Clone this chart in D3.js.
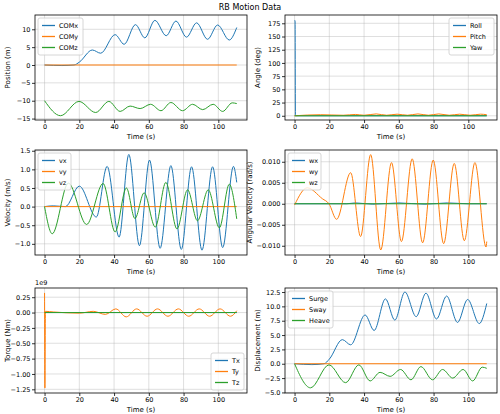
<!DOCTYPE html>
<html><head><meta charset="utf-8">
<script src="https://cdn.jsdelivr.net/npm/d3@7"></script>
<style>body{margin:0;background:#fff}text{font-family:"DejaVu Sans",sans-serif}</style>
</head><body>
<script>
// data, [time, value] keypoints
var comx = [[0,0],[10,-0.15],[17,0],[20,0.8],[27.5,4.2],[32.3,3.3],[40.6,8.5],[45.8,5.8],[52.3,11.3],[57.7,7.6],[63.5,12.5],[70,8.2],[75.6,12.3],[81.7,7.8],[87.5,11.8],[93.8,7.2],[99.6,11.2],[106.3,7.0],[110.6,10.5]];
var comy = [[0,0],[110.6,0]];
var comz = [[0,-10],[9.2,-14.2],[19.8,-10.2],[29.4,-13.3],[37,-10.2],[43.5,-13],[49.2,-11.5],[55,-12.2],[61,-11],[67,-12.8],[72.7,-10.5],[79.4,-12.8],[85.2,-11],[91,-12.5],[97,-11],[102.5,-13],[108,-10.6],[110.6,-10.8]];
var roll = [[0,180],[0.3,180],[0.5,0],[110.6,0]];
var pitch = [[0,0],[15,2],[28,1],[35,2.5],[40,1],[47,3.5],[53,1],[59,3],[65,1],[71,3.5],[77,1],[83,3.5],[89,1],[95,3],[101,1],[107,3],[110.6,2]];
var yaw = [[0,0],[110.6,0]];
var vx = [[0,0],[5,0.02],[12,0],[20,0.55],[29.8,-0.28],[36,1.08],[42.9,-0.82],[48.5,1.4],[54.6,-1.05],[60.4,1.25],[66.5,-1.12],[72.7,1.1],[78.7,-1.15],[84.6,1.07],[90.6,-1.17],[96.7,1.07],[102.5,-1.1],[108.7,1.08],[110.6,0.65]];
var vy = [[0,0],[110.6,0]];
var vz = [[0,0],[4.4,-0.73],[13.7,0.63],[24.2,-0.48],[33.7,0.62],[40.6,-0.68],[47.1,0.5],[52,-0.32],[57.3,0.37],[63.7,-0.55],[69.8,0.65],[76.2,-0.6],[82.3,0.45],[88,-0.38],[94.2,0.45],[100.6,-0.57],[106.3,0.6],[110.6,-0.33]];
var wx = [[0,0],[30,0],[35,0.0002],[45,-0.0001],[60,0.0002],[75,-0.0001],[88,0.0002],[100,0],[110.6,0]];
var wy = [[0,-0.0003],[7.3,0.0038],[16,0.0012],[19.8,0],[24.2,-0.0037],[32.3,0.0074],[38,-0.0078],[43.8,0.0117],[49.6,-0.011],[55.8,0.0098],[61.5,-0.009],[67.7,0.0107],[73.7,-0.0093],[79.8,0.0104],[85.8,-0.0095],[91.9,0.0096],[97.7,-0.0088],[103.8,0.0098],[110.2,-0.0103],[110.6,-0.009]];
var wz = [[0,0],[110.6,0]];
var tx = [[0,0],[110.6,0]];
var ty = [[0,0.32],[0.2,-1.23],[0.5,0.02],[5,0.01],[20,-0.01],[28,0.02],[35,-0.03],[41,0.06],[47,-0.07],[53,0.06],[59,-0.06],[65,0.06],[71,-0.06],[77,0.06],[83,-0.06],[89,0.06],[95,-0.06],[101,0.06],[107,-0.06],[110.6,0.03]];
var tz = [[0,0],[110.6,0]];
var surge = comx;
var sway = [[0,0],[110.6,0]];
var heave = [[0,0],[9.2,-4.2],[19.8,-0.2],[29.4,-3.3],[37,-0.2],[43.5,-3],[49.2,-1.5],[55,-2.2],[61,-1],[67,-2.8],[72.7,-0.5],[79.4,-2.8],[85.2,-1],[91,-2.5],[97,-1],[102.5,-3],[108,-0.6],[110.6,-0.8]];
var xTicks = [0,20,40,60,80,100];

var colors = ["#1f77b4","#ff7f0e","#2ca02c"];
var panels = [
  {x:35,y:15,ylabel:"Position (m)",dom:[-15.4,14],ticks:[-15,-10,-5,0,5,10],fmt:d3.format("d"),series:[comx,comy,comz],names:["COMx","COMy","COMz"],leg:"tl"},
  {x:285,y:15,ylabel:"Angle (deg)",dom:[-8,190.7],ticks:[0,25,50,75,100,125,150,175],fmt:d3.format("d"),series:[roll,pitch,yaw],names:["Roll","Pitch","Yaw"],leg:"tr"},
  {x:35,y:150,ylabel:"Velocity (m/s)",dom:[-1.3,1.52],ticks:[-1,-0.5,0,0.5,1,1.5],fmt:d3.format(".1f"),series:[vx,vy,vz],names:["vx","vy","vz"],leg:"tl"},
  {x:285,y:150,ylabel:"Angular Velocity (rad/s)",dom:[-0.0122,0.0128],ticks:[-0.01,-0.005,0,0.005,0.01],fmt:d3.format(".3f"),series:[wx,wy,wz],names:["wx","wy","wz"],leg:"tl"},
  {x:35,y:288,ylabel:"Torque (Nm)",dom:[-1.31,0.4],ticks:[-1.25,-1,-0.75,-0.5,-0.25,0,0.25],fmt:d3.format(".2f"),series:[tx,ty,tz],names:["Tx","Ty","Tz"],leg:"br",exp:"1e9"},
  {x:285,y:288,ylabel:"Displacement (m)",dom:[-5.1,13.2],ticks:[-5,-2.5,0,2.5,5,7.5,10,12.5],fmt:d3.format(".1f"),series:[surge,sway,heave],names:["Surge","Sway","Heave"],leg:"tl"}
];
var W = 212, H = 105;

var svg = d3.select("body").append("svg").attr("width",500).attr("height",414);
svg.append("text").attr("x",250).attr("y",10).attr("text-anchor","middle").attr("font-size",8).text("RB Motion Data");

panels.forEach(function(p){
  var g = svg.append("g").attr("transform","translate("+p.x+","+p.y+")");
  var xs = d3.scaleLinear().domain([-5.5,116.5]).range([0,W]);
  var ys = d3.scaleLinear().domain(p.dom).range([H,0]);
  g.append("g").selectAll("line").data(xTicks).enter().append("line")
    .attr("x1",d=>xs(d)).attr("x2",d=>xs(d)).attr("y1",0).attr("y2",H)
    .attr("stroke","#b0b0b0").attr("stroke-opacity",0.5).attr("stroke-width",0.8);
  g.append("g").selectAll("line").data(p.ticks).enter().append("line")
    .attr("y1",d=>ys(d)).attr("y2",d=>ys(d)).attr("x1",0).attr("x2",W)
    .attr("stroke","#b0b0b0").attr("stroke-opacity",0.5).attr("stroke-width",0.8);
  var line = d3.line().x(d=>xs(d[0])).y(d=>ys(d[1])).curve(d3.curveMonotoneX);
  p.series.forEach(function(s,i){
    g.append("path").datum(s).attr("d",line).attr("fill","none")
      .attr("stroke",colors[i]).attr("stroke-width",1);
  });
  var xa = g.append("g").attr("transform","translate(0,"+H+")").call(d3.axisBottom(xs).tickValues(xTicks).tickSize(3).tickPadding(1.5));
  var ya = g.append("g").call(d3.axisLeft(ys).tickValues(p.ticks).tickFormat(d=>p.fmt(d).replace("-","\u2212")).tickSize(3).tickPadding(1.5));
  [xa,ya].forEach(function(a){
    a.selectAll("text").attr("font-size",6.5).attr("font-family","DejaVu Sans").attr("fill","#000");
    a.select(".domain").remove();
    a.selectAll("line").attr("stroke","#000").attr("stroke-width",0.8);
  });
  g.append("rect").attr("width",W).attr("height",H).attr("fill","none").attr("stroke","#000").attr("stroke-width",0.8);
  g.append("text").attr("x",W/2).attr("y",H+19).attr("text-anchor","middle").attr("font-size",7).text("Time (s)");
  var yl = p.ylabel.length > 16 ? -33 : -25;
  g.append("text").attr("transform","translate("+yl+","+(H/2)+") rotate(-90)").attr("text-anchor","middle").attr("font-size",7).text(p.ylabel);
  if (p.exp) g.append("text").attr("x",0).attr("y",-3).attr("font-size",6.5).text(p.exp);
  // legend
  var lw = p.names[0].length > 3 ? 45 : 33, lh = 37;
  var lx = p.leg == "tl" ? 3 : W - lw - 3;
  var ly = p.leg == "br" ? H - lh - 3 : 3;
  var lg = g.append("g").attr("transform","translate("+lx+","+ly+")");
  lg.append("rect").attr("width",lw).attr("height",lh).attr("rx",2).attr("fill","#fff").attr("fill-opacity",0.8).attr("stroke","#ccc").attr("stroke-width",0.8);
  p.names.forEach(function(n,i){
    var yy = 7.5 + i*11;
    lg.append("line").attr("x1",4).attr("x2",17).attr("y1",yy).attr("y2",yy).attr("stroke",colors[i]).attr("stroke-width",1.3);
    lg.append("text").attr("x",21).attr("y",yy+2.3).attr("font-size",6.5).text(n);
  });
});
</script>
</body></html>
